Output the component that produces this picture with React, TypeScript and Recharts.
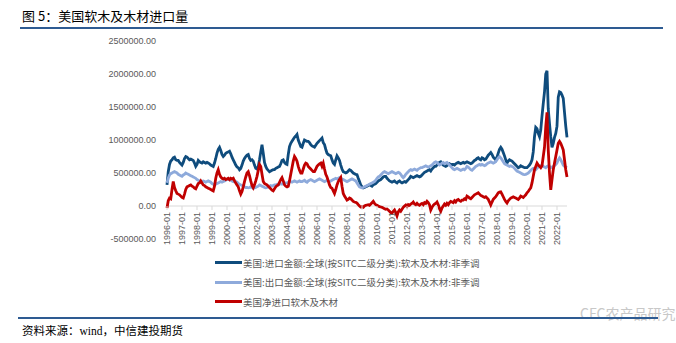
import { LineChart, Line, XAxis, YAxis, ReferenceLine } from 'recharts';

// monthly values in thousands, one row per year, 1996-01 .. 2022-09
const importK: number[][] = [
  [320, 520, 630, 680, 700, 730, 740, 700, 690, 690, 660, 640],
  [620, 660, 720, 750, 740, 720, 700, 710, 700, 690, 650, 600],
  [630, 690, 670, 660, 650, 670, 660, 650, 660, 650, 640, 620],
  [610, 600, 650, 720, 800, 860, 890, 840, 780, 750, 770, 800],
  [810, 820, 830, 790, 740, 700, 660, 620, 590, 580, 550, 570],
  [620, 680, 720, 750, 770, 780, 720, 690, 700, 680, 620, 570],
  [560, 600, 700, 820, 930, 800, 660, 600, 560, 540, 520, 530],
  [540, 550, 550, 570, 580, 590, 600, 640, 690, 700, 660, 640],
  [630, 780, 900, 950, 980, 1010, 1040, 1060, 1085, 1000, 950, 900],
  [890, 950, 1000, 990, 980, 980, 960, 930, 910, 900, 890, 920],
  [950, 970, 990, 1010, 1030, 960, 930, 860, 800, 780, 770, 760],
  [700, 650, 630, 700, 760, 730, 690, 620, 560, 520, 510, 500],
  [510, 530, 550, 540, 520, 500, 490, 480, 475, 420, 370, 320],
  [290, 275, 280, 290, 300, 310, 320, 310, 300, 320, 330, 340],
  [360, 380, 390, 400, 420, 440, 450, 450, 420, 400, 380, 370],
  [360, 370, 380, 360, 350, 370, 380, 360, 350, 360, 370, 360],
  [380, 400, 420, 450, 440, 430, 440, 450, 460, 450, 440, 450],
  [470, 490, 510, 520, 530, 540, 550, 530, 560, 580, 600, 600],
  [620, 640, 660, 670, 640, 620, 610, 600, 610, 630, 640, 620],
  [630, 630, 620, 640, 650, 660, 650, 640, 650, 660, 650, 660],
  [670, 660, 650, 640, 650, 670, 690, 700, 720, 730, 710, 700],
  [730, 720, 700, 710, 740, 770, 790, 810, 780, 740, 720, 700],
  [740, 800, 860, 890, 860, 810, 760, 700, 650, 680, 700, 690],
  [680, 660, 640, 620, 600, 580, 590, 610, 600, 590, 580, 580],
  [580, 600, 620, 650, 700, 820, 1050, 1190, 1170, 1100, 1050, 1150],
  [1360, 1550, 1730, 2000, 2050, 1470, 1250, 1050, 890, 950, 1040, 1100],
  [1210, 1650, 1730, 1720, 1680, 1630, 1420, 1210, 1040],
];

const exportK: number[][] = [
  [350, 420, 470, 490, 500, 510, 520, 510, 500, 480, 470, 460],
  [450, 470, 480, 500, 490, 480, 470, 460, 450, 440, 430, 420],
  [400, 390, 380, 370, 375, 380, 370, 360, 370, 380, 370, 360],
  [340, 330, 320, 330, 340, 350, 360, 370, 360, 370, 380, 390],
  [400, 410, 400, 390, 380, 370, 380, 370, 360, 340, 330, 320],
  [310, 300, 290, 280, 280, 275, 280, 290, 280, 270, 275, 280],
  [290, 300, 320, 310, 300, 290, 280, 275, 280, 290, 300, 310],
  [300, 310, 320, 320, 330, 320, 330, 340, 330, 340, 350, 350],
  [350, 360, 370, 370, 360, 370, 380, 370, 360, 370, 380, 370],
  [370, 380, 390, 370, 360, 380, 390, 400, 390, 380, 370, 380],
  [390, 400, 410, 400, 390, 380, 370, 380, 390, 380, 370, 380],
  [390, 400, 410, 420, 410, 420, 430, 420, 410, 400, 390, 380],
  [370, 380, 390, 400, 410, 400, 390, 380, 350, 320, 290, 280],
  [275, 280, 290, 300, 310, 320, 330, 340, 350, 360, 370, 390],
  [420, 440, 450, 470, 490, 510, 520, 510, 500, 490, 500, 510],
  [520, 510, 500, 490, 500, 510, 500, 480, 450, 430, 450, 480],
  [500, 520, 540, 550, 540, 550, 560, 550, 540, 560, 570, 580],
  [580, 590, 600, 610, 600, 590, 600, 610, 620, 640, 660, 670],
  [660, 640, 620, 630, 650, 660, 640, 650, 660, 640, 620, 600],
  [580, 560, 550, 560, 570, 560, 550, 540, 550, 560, 550, 570],
  [600, 590, 570, 550, 540, 560, 580, 600, 610, 620, 630, 620],
  [630, 620, 610, 620, 640, 650, 660, 670, 660, 650, 660, 670],
  [700, 730, 750, 730, 700, 670, 640, 630, 620, 610, 600, 610],
  [600, 590, 570, 550, 530, 520, 510, 500, 490, 480, 475, 480],
  [490, 500, 520, 540, 560, 570, 560, 550, 570, 590, 600, 610],
  [620, 600, 590, 580, 600, 610, 600, 580, 590, 600, 610, 630],
  [650, 700, 730, 700, 660, 620, 600, 590, 580],
];

const netK: number[][] = [
  [-30, 80, 120, 110, 250, 370, 280, 230, 190, 180, 170, 150],
  [130, 120, 180, 250, 290, 300, 310, 320, 300, 290, 270, 260],
  [300, 340, 350, 380, 350, 320, 310, 290, 280, 270, 260, 250],
  [240, 230, 300, 420, 500, 550, 480, 440, 420, 410, 420, 400],
  [410, 420, 400, 420, 410, 420, 380, 350, 320, 290, 230, 180],
  [220, 290, 370, 440, 500, 520, 460, 380, 310, 275, 320, 380],
  [450, 540, 630, 600, 480, 370, 340, 330, 320, 300, 280, 260],
  [240, 230, 260, 290, 310, 320, 360, 400, 430, 380, 320, 300],
  [290, 300, 380, 480, 580, 680, 750, 720, 680, 600, 540, 500],
  [500, 560, 620, 650, 640, 600, 580, 560, 540, 520, 520, 560],
  [600, 620, 640, 650, 600, 650, 560, 480, 440, 380, 320, 280],
  [270, 230, 190, 250, 320, 370, 400, 430, 300, 190, 150, 120],
  [90, 100, 120, 110, 90, 70, 60, 55, 45, 20, 0, -15],
  [-15, -20, 0, 10, 15, 20, 10, 30, 50, 70, 40, 20],
  [10, 0, -10, -15, -20, -30, -40, -50, -45, -60, -80, -100],
  [-110, -80, -60, -100, -150, -90, -60, -80, -50, -20, 0, 15],
  [-10, 20, 10, 30, 40, 60, 30, 20, 40, 20, 10, 30],
  [40, 20, 50, 40, 70, 50, 20, -60, -20, 10, 30, 40],
  [60, 20, -40, -80, -30, 0, 30, 10, 40, 20, 50, 70],
  [60, 50, 80, 60, 90, 100, 80, 70, 90, 90, 110, 100],
  [150, 140, 120, 110, 130, 150, 170, 180, 190, 200, 180, 160],
  [150, 140, 130, 140, 120, 100, 60, 15, 60, 100, 120, 140],
  [170, 200, 210, 215, 180, 140, 100, 70, 45, 80, 100, 120],
  [130, 140, 130, 120, 110, 100, 120, 150, 140, 130, 150, 170],
  [200, 220, 250, 275, 350, 450, 550, 600, 650, 620, 600, 580],
  [610, 750, 890, 1200, 1420, 850, 500, 245, 400, 550, 650, 750],
  [850, 950, 980, 950, 900, 850, 700, 550, 440],
];

const FIRST_YEAR = 1996;
const yTicks = [-500000, 0, 500000, 1000000, 1500000, 2000000, 2500000];

const series = [
  { key: 'imp', name: '美国:进口金额:全球(按SITC二级分类):软木及木材:非季调', color: '#0f4c7d' },
  { key: 'exp', name: '美国:出口金额:全球(按SITC二级分类):软木及木材:非季调', color: '#8eaadb' },
  { key: 'net', name: '美国净进口软木及木材', color: '#c00000' },
];

const data = importK.flatMap((row, i) =>
  row.map((v, j) => ({
    month: `${FIRST_YEAR + i}-${String(j + 1).padStart(2, '0')}`,
    imp: v * 1000,
    exp: exportK[i][j] * 1000,
    net: netK[i][j] * 1000,
  }))
);

// x labels hang from the zero line, not from the bottom of the plot
const MonthTick = (props: any) => {
  const { x, y, payload } = props;
  const y0 = y - 41;
  return (
    <g>
      <line x1={x} x2={x} y1={y0} y2={y0 + 4} stroke="#d9d9d9" />
      <text
        x={x}
        y={y0 + 6}
        transform={`rotate(-90, ${x}, ${y0 + 6})`}
        textAnchor="end"
        dy="0.35em"
        fontSize={9}
        fill="#595959"
        fontFamily="Liberation Sans, sans-serif"
      >
        {payload.value}
      </text>
    </g>
  );
};

export default function App() {
  return (
    <div style={{ position: 'absolute', left: 0, top: 0, width: 676, height: 343, background: '#fff', fontFamily: '"Noto Sans CJK SC", sans-serif' }}>
      <div style={{ position: 'absolute', left: 22, top: 6, fontSize: 13, color: '#000' }}>图 5：美国软木及木材进口量</div>
      <div style={{ position: 'absolute', left: 20, top: 27, width: 643, height: 2, background: '#2e5b92' }} />

      <div style={{ position: 'absolute', left: 0, top: 0 }}>
        <LineChart width={676} height={300} data={data} margin={{ top: 41, right: 109, bottom: 31, left: 0 }}>
          <XAxis
            dataKey="month"
            interval={11}
            axisLine={false}
            tickLine={false}
            height={30}
            tick={<MonthTick />}
          />
          <YAxis
            width={167}
            domain={[-500000, 2500000]}
            ticks={yTicks}
            axisLine={false}
            tickLine={false}
            tickMargin={5}
            tickFormatter={(v: number) => v.toFixed(2)}
            tick={{ fontSize: 9, fill: '#595959', fontFamily: 'Liberation Sans, sans-serif' }}
          />
          <ReferenceLine y={0} stroke="#d9d9d9" />
          {series.map((s) => (
            <Line
              key={s.key}
              type="linear"
              dataKey={s.key}
              name={s.name}
              stroke={s.color}
              strokeWidth={2.8}
              dot={false}
              isAnimationActive={false}
            />
          ))}
        </LineChart>
      </div>

      {series.map((s, i) => (
        <div key={s.key} style={{ position: 'absolute', left: 215, top: 256 + i * 19.5, height: 13, display: 'flex', alignItems: 'center', fontSize: 9.5, color: '#595959' }}>
          <span style={{ display: 'inline-block', width: 27, height: 3, background: s.color, marginRight: 1 }} />
          <span>{s.name}</span>
        </div>
      ))}

      <div style={{ position: 'absolute', left: 580, top: 303, fontSize: 14, color: '#c8c8c8' }}>CFC农产品研究</div>
      <div style={{ position: 'absolute', left: 18, top: 317, width: 640, height: 2, background: '#2e5b92' }} />
      <div style={{ position: 'absolute', left: 22, top: 322, fontSize: 11.5, color: '#000', fontFamily: '"Liberation Serif", "Noto Sans CJK SC", serif' }}>资料来源：wind，中信建投期货</div>
    </div>
  );
}
